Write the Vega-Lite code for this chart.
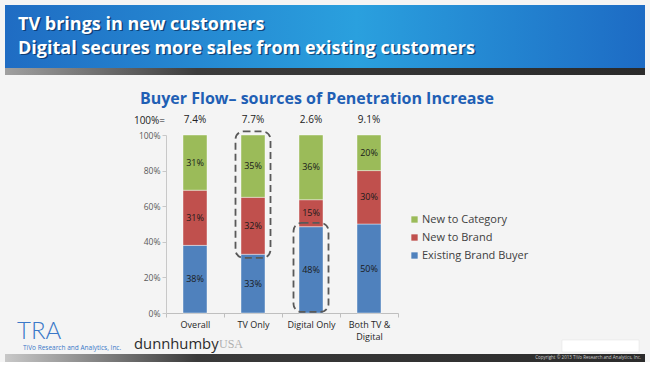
{
  "$schema": "https://vega.github.io/schema/vega-lite/v6.json",
  "background": "#f4f4f4",
  "padding": {"left": 5, "top": 5, "right": 5, "bottom": 0},
  "config": {"view": {"stroke": null}, "font": "Open Sans", "axis": {"labelOverlap": false}, "axisY": {"labelOverlap": false, "labelBound": false}},
  "datasets": {
    "shares": [
      {"category": "Overall", "segment": "Existing Brand Buyer", "share": 0.38},
      {"category": "Overall", "segment": "New to Brand", "share": 0.31},
      {"category": "Overall", "segment": "New to Category", "share": 0.31},
      {"category": "TV Only", "segment": "Existing Brand Buyer", "share": 0.33},
      {"category": "TV Only", "segment": "New to Brand", "share": 0.32},
      {"category": "TV Only", "segment": "New to Category", "share": 0.35},
      {"category": "Digital Only", "segment": "Existing Brand Buyer", "share": 0.48},
      {"category": "Digital Only", "segment": "New to Brand", "share": 0.15},
      {"category": "Digital Only", "segment": "New to Category", "share": 0.36},
      {"category": "Both TV & Digital", "segment": "Existing Brand Buyer", "share": 0.50},
      {"category": "Both TV & Digital", "segment": "New to Brand", "share": 0.30},
      {"category": "Both TV & Digital", "segment": "New to Category", "share": 0.20}
    ],
    "totals": [
      {"category": "Overall", "total": 0.074},
      {"category": "TV Only", "total": 0.077},
      {"category": "Digital Only", "total": 0.026},
      {"category": "Both TV & Digital", "total": 0.091}
    ],
    "highlights": [
      {"category": "TV Only", "lo": 0.31, "hi": 1.02},
      {"category": "Digital Only", "lo": 0.006, "hi": 0.506}
    ],
    "one": [{}]
  },
  "spacing": 16,
  "vconcat": [
    {
      "width": 479,
      "height": 70,
      "data": {"name": "one"},
      "layer": [
        {
          "mark": {"type": "rect", "fill": {"gradient": "linear", "x1": 0, "y1": 0, "x2": 1, "y2": 0, "stops": [{"offset": 0, "color": "#1f6cc3"}, {"offset": 0.55, "color": "#2aa0de"}, {"offset": 1, "color": "#1d6bc4"}]}},
          "encoding": {
            "x": {"datum": 0, "type": "quantitative", "scale": {"domain": [161, 640], "nice": false, "zero": false}, "axis": null},
            "x2": {"datum": 640},
            "y": {"datum": 0, "type": "quantitative", "scale": {"domain": [0, 70], "nice": false, "zero": false, "reverse": true}, "axis": null},
            "y2": {"datum": 63}
          }
        },
        {
          "mark": {"type": "rect", "fill": {"gradient": "linear", "x1": 0, "y1": 0, "x2": 1, "y2": 0, "stops": [{"offset": 0, "color": "#a0a0a0"}, {"offset": 0.3, "color": "#3c3c3c"}, {"offset": 1, "color": "#2a2a2a"}]}},
          "encoding": {
            "x": {"datum": 0, "type": "quantitative", "scale": {"domain": [161, 640], "nice": false, "zero": false}, "axis": null},
            "x2": {"datum": 640},
            "y": {"datum": 63, "type": "quantitative", "scale": {"domain": [0, 70], "nice": false, "zero": false, "reverse": true}, "axis": null},
            "y2": {"datum": 70}
          }
        },
        {
          "mark": {"type": "text", "text": ["TV brings in new customers", "Digital secures more sales from existing customers"], "align": "left", "baseline": "alphabetic", "fontSize": 18, "fontWeight": "bold", "lineHeight": 24, "color": "#0a2a55", "opacity": 0.7, "dx": 1.5, "dy": 1.5},
          "encoding": {
            "x": {"datum": 13, "type": "quantitative", "scale": {"domain": [161, 640], "nice": false, "zero": false}, "axis": null},
            "y": {"datum": 24.5, "type": "quantitative", "scale": {"domain": [0, 70], "nice": false, "zero": false, "reverse": true}, "axis": null}
          }
        },
        {
          "mark": {"type": "text", "text": ["TV brings in new customers", "Digital secures more sales from existing customers"], "align": "left", "baseline": "alphabetic", "fontSize": 18, "fontWeight": "bold", "lineHeight": 24, "color": "#ffffff"},
          "encoding": {
            "x": {"datum": 13, "type": "quantitative", "scale": {"domain": [161, 640], "nice": false, "zero": false}, "axis": null},
            "y": {"datum": 24.5, "type": "quantitative", "scale": {"domain": [0, 70], "nice": false, "zero": false, "reverse": true}, "axis": null}
          }
        }
      ]
    },
    {
      "width": 232,
      "height": 178,
      "title": {"text": "Buyer Flow– sources of Penetration Increase", "anchor": "start", "frame": "group", "dx": -26, "fontSize": 16, "fontWeight": "bold", "color": "#1f5fb4", "offset": 8},
      "resolve": {"scale": {"x": "independent", "y": "independent"}, "axis": {"x": "independent", "y": "independent"}},
      "layer": [
        {
          "data": {"name": "shares"},
          "layer": [
            {
              "mark": {"type": "bar", "size": 24, "stroke": "#ffffff", "strokeWidth": 0.6, "strokeOpacity": 0.7},
              "encoding": {
                "x": {"field": "category", "type": "nominal", "sort": ["Overall", "TV Only", "Digital Only", "Both TV & Digital"], "scale": {"paddingInner": 0, "paddingOuter": 0},
                  "axis": {"title": null, "labelAngle": 0, "tickBand": "extent", "domainColor": "#bfbfbf", "tickColor": "#bfbfbf", "tickSize": 4, "labelPadding": 3, "labelFontSize": 9, "labelColor": "#262626", "labelLineHeight": 12, "labelBaseline": "top",
                    "labelExpr": "datum.label == 'Both TV & Digital' ? ['Both TV &', 'Digital'] : datum.label"}},
                "y": {"field": "share", "type": "quantitative", "stack": "normalize", "scale": {"domain": [0, 1], "nice": false},
                  "axis": {"title": "100%=", "titleAngle": 0, "titleX": -17, "titleY": -15, "titleAlign": "center", "titleBaseline": "middle", "titleFontWeight": "normal", "titleFontSize": 10, "titleColor": "#222222",
                    "format": ".0%", "tickCount": 5, "labelOverlap": false, "labelFlush": false, "grid": false, "domainColor": "#c8c8c8", "tickColor": "#c8c8c8", "tickSize": 4, "labelFontSize": 8.5, "labelColor": "#595959", "labelPadding": 2, "minExtent": 161}},
                "color": {"field": "segment", "type": "nominal", "scale": {"domain": ["New to Category", "New to Brand", "Existing Brand Buyer"], "range": ["#9bbb59", "#c0504d", "#4f81bd"]},
                  "legend": {"title": null, "orient": "none", "legendX": 243, "legendY": 209, "symbolType": "square", "symbolSize": 40, "labelFontSize": 11, "labelColor": "#404040", "rowPadding": 6, "labelOffset": 2, "symbolStrokeWidth": 0}},
                "order": {"field": "segment", "sort": "ascending"}
              }
            },
            {
              "mark": {"type": "text", "fontSize": 9, "color": "#1a1a1a"},
              "encoding": {
                "x": {"field": "category", "type": "nominal", "sort": ["Overall", "TV Only", "Digital Only", "Both TV & Digital"]},
                "y": {"field": "share", "type": "quantitative", "stack": "normalize", "bandPosition": 0.5},
                "detail": {"field": "segment"},
                "order": {"field": "segment", "sort": "ascending"},
                "text": {"field": "share", "type": "quantitative", "format": ".0%"}
              }
            },
            {
              "data": {"name": "totals"},
              "mark": {"type": "text", "fontSize": 10, "color": "#222222", "baseline": "middle"},
              "encoding": {
                "x": {"field": "category", "type": "nominal", "sort": ["Overall", "TV Only", "Digital Only", "Both TV & Digital"]},
                "y": {"datum": 1.084, "type": "quantitative"},
                "text": {"field": "total", "type": "quantitative", "format": ".1%"}
              }
            },
            {
              "data": {"name": "highlights"},
              "mark": {"type": "bar", "size": 35, "cornerRadius": 8, "fill": "transparent", "stroke": "#595959", "strokeWidth": 1.8, "strokeDash": [7, 4]},
              "encoding": {
                "x": {"field": "category", "type": "nominal", "sort": ["Overall", "TV Only", "Digital Only", "Both TV & Digital"]},
                "y": {"field": "lo", "type": "quantitative"},
                "y2": {"field": "hi"}
              }
            }
          ]
        },
        {
          "data": {"name": "one"},
          "encoding": {
            "x": {"datum": 0, "type": "quantitative", "scale": {"domain": [161, 393], "nice": false, "zero": false}, "axis": null},
            "y": {"datum": 0, "type": "quantitative", "scale": {"domain": [-187, -9], "nice": false, "zero": false, "reverse": true}, "axis": null}
          },
          "layer": [
            {
              "mark": {"type": "rect", "fill": {"gradient": "linear", "x1": 0, "y1": 0, "x2": 1, "y2": 0, "stops": [{"offset": 0, "color": "#c8c8c8"}, {"offset": 0.3, "color": "#3a3a3a"}, {"offset": 1, "color": "#2b2b2b"}]}},
              "encoding": {
                "x": {"datum": 0, "type": "quantitative"},
                "x2": {"datum": 640},
                "y": {"datum": 32, "type": "quantitative"},
                "y2": {"datum": 40}
              }
            },
            {
              "mark": {"type": "rect", "fill": "#ffffff", "stroke": "#e0e0e0", "strokeWidth": 0.5},
              "encoding": {
                "x": {"datum": 557, "type": "quantitative"},
                "x2": {"datum": 634},
                "y": {"datum": 18, "type": "quantitative"},
                "y2": {"datum": 30}
              }
            },
            {
              "mark": {"type": "text", "text": "TRA", "align": "left", "baseline": "alphabetic", "fontSize": 24, "fontWeight": 300, "font": "Lato", "color": "#3a78c8"},
              "encoding": {
                "x": {"datum": 12, "type": "quantitative"},
                "y": {"datum": 17, "type": "quantitative"}
              }
            },
            {
              "mark": {"type": "text", "text": "TiVo Research and Analytics, Inc.", "align": "left", "baseline": "middle", "fontSize": 6.5, "color": "#3a78c8"},
              "encoding": {
                "x": {"datum": 18, "type": "quantitative"},
                "y": {"datum": 25.5, "type": "quantitative"}
              }
            },
            {
              "mark": {"type": "text", "text": "dunnhumby", "align": "left", "baseline": "alphabetic", "fontSize": 14.8, "color": "#2b2b2b"},
              "encoding": {
                "x": {"datum": 129, "type": "quantitative"},
                "y": {"datum": 27, "type": "quantitative"}
              }
            },
            {
              "mark": {"type": "text", "text": "USA", "align": "left", "baseline": "alphabetic", "fontSize": 12, "font": "Liberation Serif", "color": "#b0b0b0"},
              "encoding": {
                "x": {"datum": 214, "type": "quantitative"},
                "y": {"datum": 26, "type": "quantitative"}
              }
            },
            {
              "mark": {"type": "text", "text": "Copyright © 2013 TiVo Research and Analytics, Inc.", "align": "right", "baseline": "middle", "fontSize": 4.5, "color": "#d0d0d0"},
              "encoding": {
                "x": {"datum": 636, "type": "quantitative"},
                "y": {"datum": 36, "type": "quantitative"}
              }
            }
          ]
        }
      ]
    }
  ]
}
